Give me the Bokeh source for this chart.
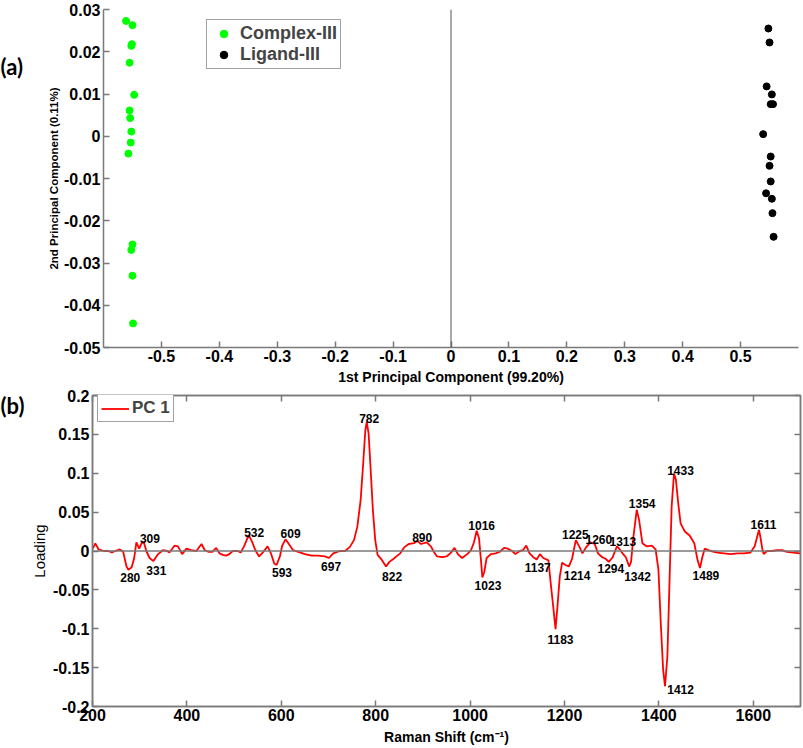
import numpy as np
from bokeh.plotting import figure
from bokeh.models import (Range1d, FixedTicker, LinearAxis, Span, Legend, LegendItem,
                          Label, CustomJSTickFormatter, ColumnDataSource)
from bokeh.layouts import column, row
from bokeh.core.properties import value
from bokeh.embed import file_html
from bokeh.resources import INLINE

# ---------------- data: (a) PCA scores ----------------
complex_x = [-0.561, -0.550, -0.551, -0.552, -0.555, -0.547, -0.555, -0.554, -0.552,
             -0.553, -0.557, -0.550, -0.552, -0.550, -0.549]
complex_y = [0.0273, 0.0263, 0.0218, 0.0214, 0.0174, 0.0098, 0.0061, 0.0043, 0.0011,
             -0.0015, -0.0041, -0.0256, -0.0269, -0.0330, -0.0443]
ligand_x = [0.548, 0.550, 0.545, 0.554, 0.552, 0.556, 0.539, 0.552, 0.550, 0.552,
            0.544, 0.554, 0.555, 0.557]
ligand_y = [0.0255, 0.0222, 0.0118, 0.0099, 0.0076, 0.0076, 0.0005, -0.0048, -0.0070,
            -0.0107, -0.0135, -0.0148, -0.0182, -0.0238]

# ---------------- data: (b) PC1 loading ----------------
wavenumber = [201, 206, 213, 224, 234, 241, 248, 258, 265, 272, 276, 283, 288, 293, 299,
              304, 309, 314, 321, 329, 339, 349, 358, 363, 374, 381, 390, 399, 409, 420,
              431, 438, 445, 454, 462, 469, 476, 483, 490, 497, 507, 514, 521, 531, 538,
              545, 553, 562, 571, 578, 585, 590, 597, 602, 609, 616, 625, 636, 650, 664,
              678, 692, 701, 710, 724, 735, 745, 754, 761, 768, 773, 778, 781, 785, 789,
              794, 799, 804, 813, 822, 829, 836, 846, 852, 861, 870, 881, 888, 896, 908,
              917, 923, 930, 941, 950, 958, 967, 974, 983, 994, 1002, 1008, 1014, 1019,
              1023, 1026, 1030, 1035, 1044, 1054, 1063, 1072, 1080, 1089, 1096, 1105,
              1112, 1119, 1126, 1134, 1141, 1148, 1155, 1166, 1170, 1176, 1181, 1185,
              1190, 1195, 1202, 1209, 1216, 1224, 1232, 1238, 1246, 1255, 1264, 1271,
              1280, 1287, 1294, 1302, 1311, 1316, 1323, 1330, 1337, 1341, 1346, 1353,
              1358, 1365, 1374, 1385, 1393, 1399, 1404, 1409, 1413, 1418, 1422, 1427,
              1432, 1436, 1441, 1446, 1455, 1465, 1475, 1482, 1487, 1492, 1497, 1510,
              1524, 1538, 1552, 1566, 1580, 1594, 1603, 1608, 1612, 1615, 1619, 1622,
              1629, 1640, 1650, 1661, 1671, 1685, 1699]
loading = [0.0035, 0.0098, 0.002, 0.0, 0.0, -0.002, 0.0, 0.002, -0.001, -0.020, -0.024,
           -0.021, -0.010, 0.011, 0.003, 0.010, 0.011, 0.0, -0.009, -0.013, -0.004, 0.001,
           0.0, -0.002, 0.007, 0.006, -0.004, 0.003, 0.001, 0.0, 0.009, 0.001, -0.001,
           -0.001, 0.004, -0.003, -0.005, -0.006, -0.004, 0.0, 0.0, -0.002, 0.006, 0.0205,
           0.012, 0.001, -0.007, -0.001, 0.006, -0.003, -0.016, -0.018, -0.007, 0.007,
           0.015, 0.009, 0.001, -0.001, -0.004, -0.006, -0.006, -0.007, -0.009, -0.003,
           0.0, 0.0, 0.005, 0.014, 0.031, 0.065, 0.108, 0.155, 0.166, 0.151, 0.108, 0.053,
           0.014, -0.005, -0.0115, -0.020, -0.014, -0.011, -0.006, -0.003, 0.005, 0.009,
           0.010, 0.013, 0.009, 0.011, 0.006, -0.001, -0.007, -0.008, -0.007, -0.003,
           0.004, -0.004, -0.009, -0.004, 0.001, 0.011, 0.026, 0.016, -0.012, -0.034,
           -0.027, -0.009, -0.004, -0.003, -0.001, 0.004, 0.003, 0.0, -0.004, 0.0, 0.001,
           0.007, -0.003, -0.008, -0.011, -0.004, -0.009, -0.012, -0.037, -0.071, -0.1005,
           -0.072, -0.033, -0.015, -0.018, -0.020, -0.010, 0.014, 0.005, -0.003, 0.005,
           0.011, 0.009, -0.003, -0.008, -0.010, -0.014, -0.008, 0.006, 0.003, -0.003,
           -0.008, -0.020, -0.014, 0.018, 0.053, 0.040, 0.010, 0.006, 0.007, 0.002,
           -0.024, -0.093, -0.153, -0.174, -0.135, -0.050, 0.057, 0.0995, 0.092, 0.061,
           0.0355, 0.025, 0.020, 0.010, -0.012, -0.022, -0.008, 0.003, 0.0, -0.002,
           -0.003, -0.004, -0.003, -0.003, -0.002, 0.006, 0.018, 0.027, 0.018, 0.003,
           -0.004, 0.0, 0.0, 0.001, 0.001, -0.001, -0.002, -0.003]

peak_labels = [280, 309, 331, 532, 593, 609, 697, 782, 822, 890, 1016, 1023, 1137, 1183,
               1214, 1225, 1260, 1294, 1313, 1342, 1354, 1412, 1433, 1489, 1611]
# label offsets from the peak tip in screen pixels (style)
label_dx = [0, 6, 2, 5, 4, 5, 4, 2, 6, 4, 4, 7, 3, 4, 6, -1, 6, 2, 5, 6, 5, 16, 6, 5, 5]
label_dy = [8, -4, 9, -3, 8, -6, 9, -3, 10, -3, -5, 8, 8, 10, 9, -6, -3, 7, -5, 10, -6, 3,
            -3, 7, -6]

# ticks
x1_ticks = [-0.5, -0.4, -0.3, -0.2, -0.1, 0, 0.1, 0.2, 0.3, 0.4, 0.5]
y1_ticks = [-0.05, -0.04, -0.03, -0.02, -0.01, 0, 0.01, 0.02, 0.03]
x2_ticks = [200, 400, 600, 800, 1000, 1200, 1400, 1600]
y2_ticks = [-0.2, -0.15, -0.1, -0.05, 0, 0.05, 0.1, 0.15, 0.2]

FONT = "Liberation Sans"
AX = "#7a7a7a"
TAG_W1 = 30
TAG_W2 = 27
fmt = CustomJSTickFormatter(code="return tick.toString();")
blank = CustomJSTickFormatter(code="return '';")


def style_axis(ax, standoff):
    ax.axis_line_color = AX
    ax.axis_line_width = 1.5
    ax.major_tick_line_color = AX
    ax.major_tick_line_width = 1.5
    ax.major_tick_in = 6
    ax.major_tick_out = 0
    ax.minor_tick_line_color = None
    ax.major_label_text_font = FONT
    ax.major_label_text_font_size = "16px"
    ax.major_label_text_font_style = "bold"
    ax.major_label_text_color = "black"
    ax.major_label_standoff = standoff
    ax.axis_label_text_font = FONT
    ax.axis_label_text_color = "black"


def tag_panel(text, width, height, top_px):
    """Narrow blank strip carrying the panel letter."""
    f = figure(width=width, height=height, x_range=Range1d(0, 1), y_range=Range1d(0, 1),
               x_axis_location=None, y_axis_location=None, output_backend="svg",
               toolbar_location=None, frame_align=False, min_border=0)
    f.grid.visible = False
    f.outline_line_color = None
    f.add_layout(Label(x=0, y=height - top_px, x_units="screen", y_units="screen", text=text,
                       text_font="Lato", text_font_size="22px", text_font_style="bold",
                       text_color="black", text_align="left", text_baseline="middle"))
    return f


# ---------------- figure (a) ----------------
H1 = 387
p1 = figure(width=803 - TAG_W1, height=H1, x_range=Range1d(-0.6, 0.6),
            y_range=Range1d(-0.05, 0.03),
            output_backend="svg", toolbar_location=None, frame_align=False,
            min_border_left=103 - TAG_W1, min_border_right=5, min_border_top=9,
            min_border_bottom=39)
p1.grid.visible = False
p1.outline_line_color = None
p1.background_fill_color = "white"

xa = p1.xaxis[0]
ya = p1.yaxis[0]
style_axis(xa, 2)
style_axis(ya, 3)
xa.ticker = FixedTicker(ticks=x1_ticks)
ya.ticker = FixedTicker(ticks=y1_ticks)
xa.formatter = fmt
ya.formatter = fmt
xa.axis_label = "1st Principal Component (99.20%)"
xa.axis_label_text_font_size = "14px"
xa.axis_label_text_font_style = "bold"
xa.axis_label_standoff = 4
ya.axis_label = "2nd Principal Component (0.11%)"
ya.axis_label_text_font_size = "11.5px"
ya.axis_label_text_font_style = "bold"
ya.axis_label_standoff = 1

p1.add_layout(Span(location=0, dimension="height", line_color="#555555", line_width=1))

r_c = p1.scatter(x=complex_x, y=complex_y, size=7, fill_color="#00ff00", line_color="#00ff00")
r_l = p1.scatter(x=ligand_x, y=ligand_y, size=7, fill_color="black", line_color="black")

leg1 = Legend(items=[LegendItem(label="Complex-III", renderers=[r_c]),
                     LegendItem(label="Ligand-III", renderers=[r_l])],
              location=(103, 278), margin=0, padding=3, spacing=0,
              glyph_width=27, glyph_height=19, label_height=19, label_standoff=3,
              label_text_font=FONT, label_text_font_size="18px", label_text_font_style="bold",
              border_line_color="#444444", border_line_width=1, background_fill_alpha=1)
p1.add_layout(leg1)

# ---------------- figure (b) ----------------
H2 = 360
p2 = figure(width=803 - TAG_W2, height=H2, x_range=Range1d(200, 1700),
            y_range=Range1d(-0.2, 0.2),
            output_backend="svg", toolbar_location=None, frame_align=False,
            min_border_left=92 - TAG_W2, min_border_right=3, min_border_top=8,
            min_border_bottom=40)
p2.grid.visible = False
p2.outline_line_color = AX
p2.outline_line_width = 1.5

xb = p2.xaxis[0]
yb = p2.yaxis[0]
style_axis(xb, 2)
style_axis(yb, 3)
xb.ticker = FixedTicker(ticks=x2_ticks)
yb.ticker = FixedTicker(ticks=y2_ticks)
xb.formatter = fmt
yb.formatter = fmt
xb.axis_label = "Raman Shift (cm\u207b\u00b9)"
xb.axis_label_text_font_size = "14px"
xb.axis_label_text_font_style = "bold"
xb.axis_label_standoff = 5
yb.axis_label = "Loading"
yb.axis_label_text_font_size = "15px"
yb.axis_label_text_font_style = "normal"
yb.axis_label_standoff = 2

top_ax = LinearAxis(ticker=FixedTicker(ticks=x2_ticks), formatter=blank)
right_ax = LinearAxis(ticker=FixedTicker(ticks=y2_ticks), formatter=blank)
for ax in (top_ax, right_ax):
    style_axis(ax, 0)
    ax.major_label_text_font_size = "0px"
p2.add_layout(top_ax, "above")
p2.add_layout(right_ax, "right")

p2.add_layout(Span(location=0, dimension="width", line_color=AX, line_width=1.5))

r_pc = p2.line(x=wavenumber, y=loading, line_color="#ff0000", line_width=1.8)

wn_arr = np.array(wavenumber, dtype=float)
ld_arr = np.array(loading, dtype=float)
lab_y = []
for pk, dy in zip(peak_labels, label_dy):
    m = (wn_arr >= pk - 8) & (wn_arr <= pk + 8)
    lab_y.append(float(ld_arr[m].min() if dy > 0 else ld_arr[m].max()))
src = ColumnDataSource(dict(x=[float(v) for v in peak_labels], y=lab_y,
                            text=[str(v) for v in peak_labels], dx=label_dx, dy=label_dy))
p2.text(x="x", y="y", text="text", x_offset="dx", y_offset="dy", source=src,
        text_align="center", text_baseline="middle", text_font=value(FONT),
        text_font_size="12px", text_font_style="bold", text_color="black")

leg2 = Legend(items=[LegendItem(label="PC 1", renderers=[r_pc])],
              location=(5, 284), margin=0, padding=3, spacing=0,
              glyph_width=28, glyph_height=17, label_height=17, label_standoff=3,
              label_text_font=FONT, label_text_font_size="17px", label_text_font_style="bold",
              border_line_color="#444444", border_line_width=1, background_fill_alpha=1)
p2.add_layout(leg2)

tag_a = tag_panel("(a)", TAG_W1, H1, 66)
tag_b = tag_panel("(b)", TAG_W2, H2, 18)

layout = column(row(tag_a, p1, spacing=0), row(tag_b, p2, spacing=0), spacing=0)
open("out.html", "w").write(file_html(layout, INLINE))
